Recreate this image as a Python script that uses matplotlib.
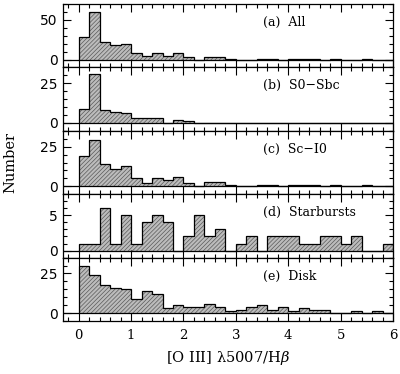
import numpy as np
import matplotlib
matplotlib.use('Agg')
import matplotlib.pyplot as plt
from matplotlib.ticker import MultipleLocator

# bin edges of the [O III]/Hbeta histograms (width 0.2)
edges = np.round(np.arange(0, 6.0001, 0.2), 1)

counts_all = [28, 60, 22, 18, 19, 8, 5, 8, 4, 8, 3, 0, 3, 3, 1,
              0, 0, 1, 1, 0, 1, 1, 1, 0, 1, 0, 0, 1, 0, 0]
counts_s0sbc = [9, 31, 8, 7, 6, 3, 3, 3, 0, 2, 1, 0, 0, 0, 0,
                0, 0, 0, 0, 0, 0, 0, 0, 0, 0, 0, 0, 0, 0, 0]
counts_sci0 = [19, 29, 14, 11, 13, 5, 2, 5, 4, 6, 2, 0, 3, 3, 1,
               0, 0, 1, 1, 0, 1, 1, 1, 0, 1, 0, 0, 1, 0, 0]
counts_starburst = [1, 1, 6, 1, 5, 1, 4, 5, 4, 0, 2, 5, 2, 3, 0,
                    1, 2, 0, 2, 2, 2, 1, 1, 2, 2, 1, 2, 0, 0, 1]
counts_disk = [30, 24, 18, 16, 15, 9, 14, 12, 3, 5, 4, 4, 6, 4, 1,
               2, 4, 5, 2, 4, 1, 3, 2, 2, 0, 0, 1, 0, 1, 0]

panels = [
    ('(a)  All', counts_all, (-10, 70), 50, 10),
    ('(b)  S0\u2212Sbc', counts_s0sbc, (-5, 35), 25, 5),
    ('(c)  Sc\u2212I0', counts_sci0, (-5, 35), 25, 5),
    ('(d)  Starbursts', counts_starburst, (-1, 8), 5, 1),
    ('(e)  Disk', counts_disk, (-5, 35), 25, 5),
]

plt.rcParams['hatch.linewidth'] = 0.5
plt.rcParams['mathtext.fontset'] = 'dejavuserif'

fig = plt.figure(figsize=(4.0, 3.74), dpi=100)
left, width = 0.1575, 0.825
bottom0, ph = 0.1417, 0.1695

for i, (label, vals, ylim, major, minor) in enumerate(panels):
    ax = fig.add_axes([left, bottom0 + (4 - i) * ph, width, ph])
    ax.stairs(vals, edges, baseline=0, fill=True, facecolor='#bcbcbc',
              edgecolor='#5a5a5a', hatch='////////', linewidth=0)
    ax.stairs(vals, edges, baseline=0, color='black', linewidth=0.9)
    ax.axhline(0, color='black', linewidth=0.9)
    ax.set_xlim(-0.3, 6)
    ax.set_ylim(*ylim)
    ax.xaxis.set_major_locator(MultipleLocator(1))
    ax.xaxis.set_minor_locator(MultipleLocator(0.2))
    ax.yaxis.set_major_locator(MultipleLocator(major))
    ax.yaxis.set_minor_locator(MultipleLocator(minor))
    ax.tick_params(which='both', direction='in', top=True, right=True,
                   width=0.8)
    ax.tick_params(which='major', length=5.5)
    ax.tick_params(which='minor', length=3)
    ax.tick_params(axis='y', labelsize=10, pad=4)
    for t in ax.get_yticklabels():
        t.set_fontfamily('DejaVu Sans')
    for s in ax.spines.values():
        s.set_linewidth(0.9)
    ax.text(0.605, 0.71, label, transform=ax.transAxes, fontsize=9,
            family='DejaVu Serif', va='center', ha='left')
    if i < 4:
        ax.tick_params(axis='x', labelbottom=False)
    else:
        ax.tick_params(axis='x', labelsize=9.5, pad=6)
        for t in ax.get_xticklabels():
            t.set_fontfamily('DejaVu Serif')

fig.text(0.025, 0.565, 'Number', rotation=90, va='center', ha='center',
         fontsize=10.5, family='DejaVu Serif')
fig.text(0.57, 0.043, '[O III] \u03bb5007/H$\\beta$', ha='center',
         va='center', fontsize=10.5, family='DejaVu Serif')

fig.savefig('out.png', dpi=100)
